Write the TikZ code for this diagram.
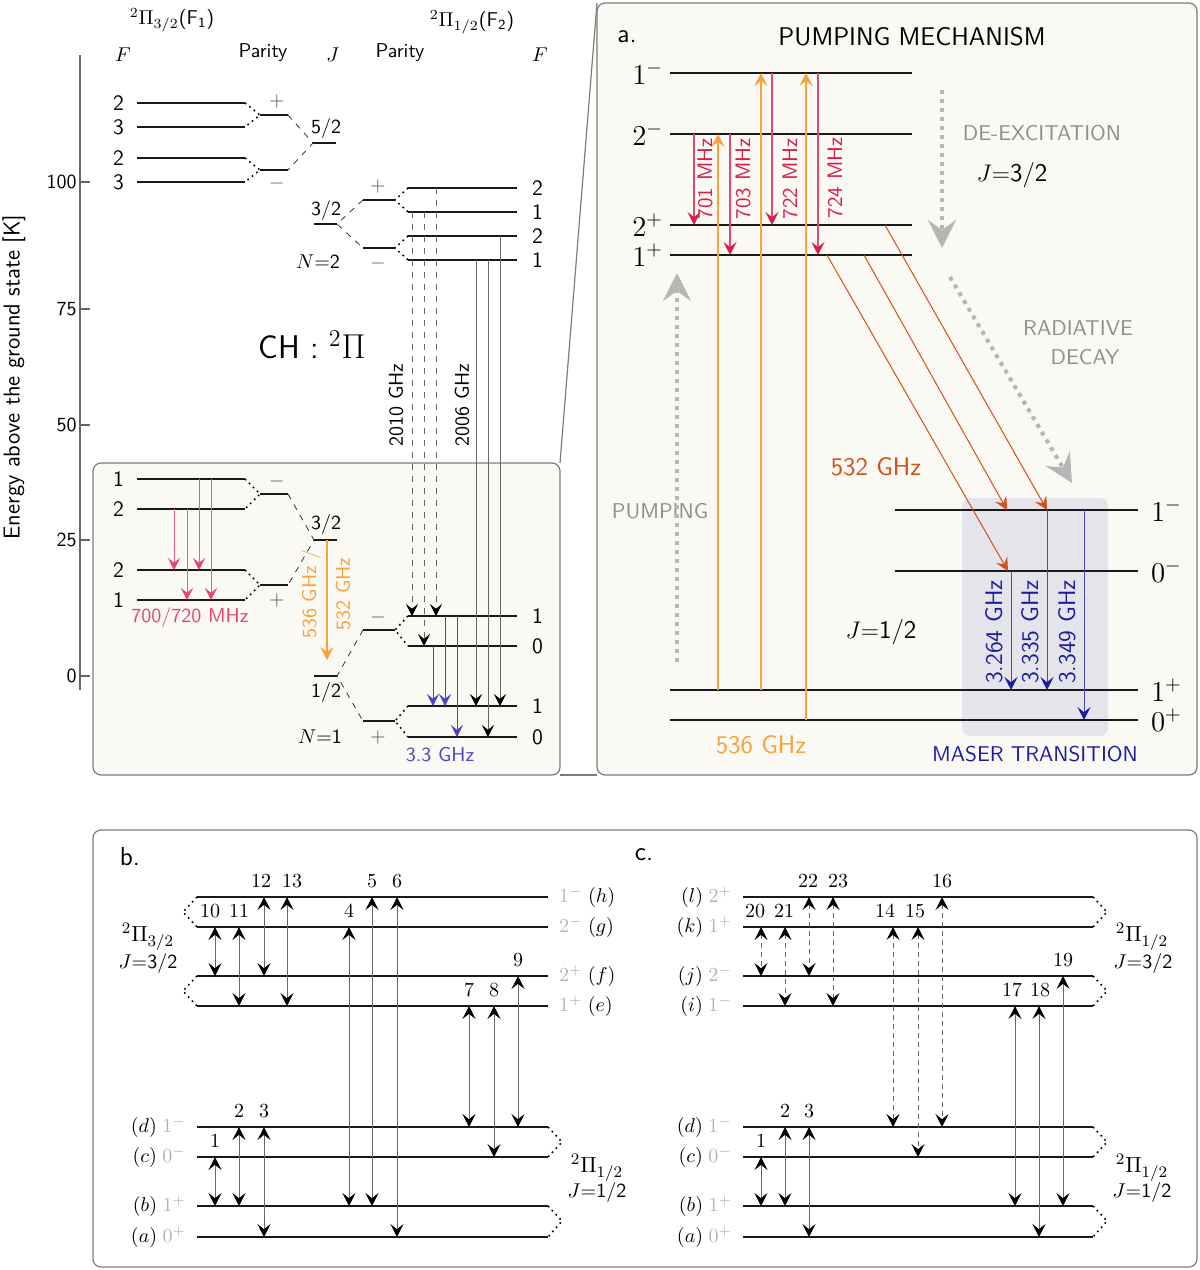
\documentclass[tikz,border=0pt]{standalone}
\usepackage{amsmath}
\usepackage{amssymb}
\usepackage{tikz}
\usetikzlibrary{calc,arrows.meta}
\renewcommand{\familydefault}{\sfdefault}

\definecolor{paper}{HTML}{FBF9F4}
\definecolor{framegray}{HTML}{7C7C7C}
\definecolor{mhzred}{HTML}{D81E4A}
\definecolor{mhzpink}{HTML}{E5456C}
\definecolor{pumporange}{HTML}{F7A23A}
\definecolor{decayorange}{HTML}{D0501C}
\definecolor{maserblue}{HTML}{1C1CA0}
\definecolor{hfblue}{HTML}{4646C2}
\definecolor{guidegray}{HTML}{B6B6B6}
\definecolor{notegray}{HTML}{8E8E8E}
\definecolor{parlabel}{HTML}{B4B4B4}
\definecolor{maserfill}{HTML}{E6E4EB}

\tikzset{
  level/.style={line width=1pt,black!90},
  tie/.style={dotted,line width=0.8pt},
  split/.style={dash pattern=on 3pt off 3pt,line width=0.4pt,black!80},
  panel/.style={draw=framegray,line width=0.6pt,rounded corners=4pt},
  sign/.style={text=black!65},
  farline/.style={draw=black!60,line width=0.5pt,-{Stealth[length=6pt,width=6pt,inset=2.4pt,color=black]}},
  mhzline/.style={draw=mhzpink!85,line width=0.5pt,-{Stealth[length=6pt,width=6pt,inset=2.4pt,color=mhzpink]}},
  hfline/.style={draw=hfblue,line width=0.5pt,-{Stealth[length=6pt,width=6pt,inset=2.4pt]}},
  mhzarrow/.style={draw=mhzred!80,line width=0.6pt,-{Stealth[length=6.5pt,width=6.5pt,inset=2.6pt,color=mhzred]}},
  pumparrow/.style={draw=pumporange,line width=0.6pt,-{Stealth[length=6.5pt,width=6.5pt,inset=2.6pt]}},
  decayarrow/.style={draw=decayorange,line width=0.5pt,-{Stealth[length=6.5pt,width=6.5pt,inset=2.6pt]}},
  maserarrow/.style={draw=maserblue!80,line width=0.5pt,-{Stealth[length=6.5pt,width=6.5pt,inset=2.6pt,color=maserblue]}},
  guide/.style={draw=guidegray,line width=2pt,dash pattern=on 2pt off 2.5pt,-{Stealth[length=14pt,width=14pt,inset=5pt]}},
  pair/.style={draw=black!60,line width=0.5pt,{Stealth[length=6.5pt,width=6.5pt,inset=2.6pt,color=black]}-{Stealth[length=6.5pt,width=6.5pt,inset=2.6pt,color=black]}},
  dpair/.style={pair,dash pattern=on 2.5pt off 2pt},
  num/.style={anchor=south,inner sep=1pt,yshift=3.5pt,font=\rmfamily},
  note/.style={text=notegray,font=\fontsize{10.7}{12}\selectfont},
  big/.style={font=\fontsize{12.7}{15}\selectfont}
}

\newcommand{\elevel}[4]{\draw[level] (#2,#3) coordinate (#1) -- ++(#4,0) coordinate (#1-r);}
\newcommand{\vtr}[4][]{\draw[#1] ($(#3)+(#2,0)$) -- ($(#4)+(#2,0)$);}
\newcommand{\bitr}[7][pair]{\draw[#1] ($(#4)+(#3,0)$) coordinate (#2) -- ($(#5)+(#3,0)$);
  \node[num] (#2-n) at ($(#2)+(#7,0)$) {#6};}

\begin{document}
\begin{tikzpicture}[x=0.5pt,y=-0.5pt,>={Stealth[length=5.5pt,width=5pt,inset=2pt]}]
\useasboundingbox (0,0) rectangle (1200,1270);

\draw[panel,fill=paper] (93,463) coordinate (zoomtl) rectangle (560,775) coordinate (zoombr);
\draw[panel,fill=paper] (597,3) coordinate (pa-nw) rectangle (1197,775) coordinate (pa-se);
\draw[panel,fill=white] (93,830) coordinate (pbc-nw) rectangle (1197,1267) coordinate (pbc-se);
\draw[framegray,line width=0.6pt] (zoomtl -| zoombr) -- (pa-nw);
\draw[framegray,line width=0.6pt] (zoombr) -- (pa-nw |- pa-se);

\draw[black!60,line width=0.6pt] (80,55) coordinate (ax-top) -- (80,690) coordinate (ax-bot);
\foreach \v/\y in {100/182,75/309,50/425,25/540,0/676} {
  \draw[black!60,line width=0.6pt] (80,\y) -- (90,\y);
  \node[anchor=east,inner sep=1pt] (tick\v) at (79,\y) {\v};
}
\node[rotate=90,font=\fontsize{11.5}{13}\selectfont] (ylabel) at (14,377) {Energy above the ground state [K]};

\node (hd-f1) at (172,20) {$^2\Pi_{3/2}$(F$_\mathsf{1}$)};
\node (hd-f2) at (472,22) {$^2\Pi_{1/2}$(F$_\mathsf{2}$)};
\node (hd-fa) at (123,55) {$F$};
\node (hd-pa) at (263,53) {Parity};
\node (hd-j) at (333,55) {$J$};
\node (hd-pb) at (400,53) {Parity};
\node (hd-fb) at (540,55) {$F$};

\foreach \n/\y/\f in {ua/103/2,ub/127/3,uc/158/2,ud/182/3} {
  \elevel{\n}{137}{\y}{108}
  \node[anchor=east,font=\fontsize{11}{13}\selectfont] (\n-f) at (131,\y) {\f};
}
\elevel{pu}{260}{115}{28}
\elevel{pd}{260}{170}{28}
\node[sign] (pu-s) at (277,101) {$+$};
\node[sign] (pd-s) at (277,183) {$-$};
\draw[tie] (ua-r) -- (pu) -- (ub-r);
\draw[tie] (uc-r) -- (pd) -- (ud-r);
\elevel{j52}{313}{143}{23}
\node (j52-l) at (326,128) {5/2};
\draw[split] (pu-r) -- (j52) -- (pd-r);

\elevel{j32}{314}{224}{23}
\node (j32-l) at (326,210) {3/2};
\node (n2) at (318,262) {$N{=}$2};
\elevel{qu}{363}{200}{32}
\elevel{qd}{363}{248}{32}
\node[sign] (qu-s) at (378,186) {$+$};
\node[sign] (qd-s) at (378,263) {$-$};
\draw[split] (qu) -- (j32-r) -- (qd);
\foreach \n/\y/\f in {fa/188/2,fb/212/1,fc/236/2,fd/260/1} {
  \elevel{\n}{408}{\y}{109}
  \node[anchor=west,font=\fontsize{11}{13}\selectfont] (\n-f) at (525,\y) {\f};
}
\draw[tie] (fa) -- (qu-r) -- (fb);
\draw[tie] (fc) -- (qd-r) -- (fd);

\node[font=\fontsize{16.4}{19}\selectfont] (chpi) at (312,345) {CH : $^2\Pi$};

\foreach \n/\y/\f in {la/479/1,lb/509/2,lc/570/2,ld/600/1} {
  \elevel{\n}{137}{\y}{108}
  \node[anchor=east,font=\fontsize{11}{13}\selectfont] (\n-f) at (131,\y) {\f};
}
\elevel{pl}{260}{494}{28}
\elevel{pm}{260}{585}{28}
\node[sign] (pl-s) at (277,481) {$-$};
\node[sign] (pm-s) at (277,600) {$+$};
\draw[tie] (la-r) -- (pl) -- (lb-r);
\draw[tie] (lc-r) -- (pm) -- (ld-r);
\elevel{jl32}{314}{540}{23}
\node (jl32-l) at (326,524) {3/2};
\draw[split] (pl-r) -- (jl32) -- (pm-r);
\elevel{j12}{314}{676}{23}
\node (j12-l) at (326,692) {1/2};
\node (n1) at (320,737) {$N{=}$1};
\elevel{ru}{363}{630}{32}
\elevel{rd}{363}{721}{32}
\node[sign] (ru-s) at (378,617) {$-$};
\node[sign] (rd-s) at (378,737) {$+$};
\draw[split] (ru) -- (j12-r) -- (rd);
\foreach \n/\y/\f in {ga/616/1,gb/646/0,gc/706/1,gd/737/0} {
  \elevel{\n}{408}{\y}{109}
  \node[anchor=west,font=\fontsize{11}{13}\selectfont] (\n-f) at (525,\y) {\f};
}
\draw[tie] (ga) -- (ru-r) -- (gb);
\draw[tie] (gc) -- (rd-r) -- (gd);

\vtr[mhzline]{37}{lb}{lc}
\vtr[mhzline]{50}{lb}{ld}
\vtr[mhzline]{62}{la}{lc}
\vtr[mhzline]{74}{la}{ld}
\node[text=mhzpink] (f700) at (190,617) {700/720 MHz};
\draw[pumparrow,shorten >=8pt] ($(jl32)+(13,0)$) -- ($(j12)+(13,0)$);
\node[rotate=90,text=pumporange] (f536) at (311,594) {536 GHz /};
\node[rotate=90,text=pumporange] (f532) at (343,594) {532 GHz};

\vtr[farline,dashed]{4}{fb}{ga}
\vtr[farline,dashed]{16}{fb}{gb}
\vtr[farline,dashed]{28}{fa}{ga}
\vtr[farline]{68}{fd}{gc}
\vtr[farline]{80}{fd}{gd}
\vtr[farline]{92}{fc}{gc}
\node[rotate=90] (f2010) at (396,405) {2010 GHz};
\node[rotate=90] (f2006) at (462,405) {2006 GHz};
\vtr[hfline]{25}{gb}{gc}
\vtr[hfline]{37}{ga}{gc}
\vtr[hfline]{49}{ga}{gd}
\node[text=hfblue] (f33) at (440,755) {3.3 GHz};

\node[font=\fontsize{13}{15}\selectfont] (pa-tag) at (627,37) {a.};
\node[font=\fontsize{12.8}{15}\selectfont] (pa-title) at (912,37) {PUMPING MECHANISM};
\fill[maserfill,rounded corners=4pt] (962,498) coordinate (mb-nw) rectangle (1108,736) coordinate (mb-se);
\foreach \n/\y/\s in {a1m/73/1^-,a2m/134/2^-,a2p/225/2^+,a1p/255/1^+} {
  \elevel{\n}{670}{\y}{242}
  \node[anchor=east,font=\fontsize{14}{16}\selectfont] (\n-l) at (670,\y) {$\s$};
}
\foreach \n/\y/\s in {b1m/510/1^-,b0m/571/0^-} {
  \elevel{\n}{895}{\y}{243}
  \node[anchor=west,font=\fontsize{14}{16}\selectfont] (\n-l) at (1144,\y) {$\s$};
}
\foreach \n/\y/\s in {b1p/690/1^+,b0p/720/0^+} {
  \elevel{\n}{670}{\y}{468}
  \node[anchor=west,font=\fontsize{14}{16}\selectfont] (\n-l) at (1144,\y) {$\s$};
}

\vtr[mhzarrow]{24}{a2m}{a2p}
\vtr[mhzarrow]{60}{a2m}{a1p}
\vtr[mhzarrow]{102}{a1m}{a2p}
\vtr[mhzarrow]{148}{a1m}{a1p}
\node[rotate=90,text=mhzred,font=\fontsize{10.5}{12}\selectfont] (t-701) at (705,179) {701 MHz};
\node[rotate=90,text=mhzred,font=\fontsize{10.5}{12}\selectfont] (t-703) at (743,179) {703 MHz};
\node[rotate=90,text=mhzred,font=\fontsize{10.5}{12}\selectfont] (t-722) at (790,179) {722 MHz};
\node[rotate=90,text=mhzred,font=\fontsize{10.5}{12}\selectfont] (t-724) at (835,178) {724 MHz};

\vtr[pumparrow]{48}{b1p}{a2m}
\vtr[pumparrow]{91}{b1p}{a1m}
\vtr[pumparrow]{136}{b0p}{a1m}

\draw[decayarrow] ($(a1p)+(157,0)$) -- ($(b0m)+(113,0)$);
\draw[decayarrow] ($(a1p)+(194,0)$) -- ($(b1m)+(112,0)$);
\draw[decayarrow] ($(a2p)+(215,0)$) -- ($(b1m)+(152,0)$);

\draw[maserarrow] ($(b0m)+(116,0)$) coordinate (m1) -- (m1 |- b1p);
\draw[maserarrow] ($(b1m)+(152,0)$) coordinate (m2) -- (m2 |- b1p);
\draw[maserarrow] ($(b1m)+(189,0)$) coordinate (m3) -- (m3 |- b0p);
\node[rotate=90,text=maserblue,font=\fontsize{12}{14}\selectfont] (t-3264) at (994,632) {3.264 GHz};
\node[rotate=90,text=maserblue,font=\fontsize{12}{14}\selectfont] (t-3335) at (1030,632) {3.335 GHz};
\node[rotate=90,text=maserblue,font=\fontsize{12}{14}\selectfont] (t-3349) at (1067,632) {3.349 GHz};

\node[note] (t-dex) at (1042,133) {DE-EXCITATION};
\node[big] (t-j32) at (1012,175) {$J{=}$3/2};
\node[note] (t-rad) at (1078,328) {RADIATIVE};
\node[note] (t-dec) at (1085,357) {DECAY};
\node[note] (t-pump) at (660,511) {PUMPING};
\node[big] (t-j12) at (881,632) {$J{=}$1/2};
\node[big,text=pumporange] (t-536) at (761,745) {536 GHz};
\node[big,text=decayorange] (t-532) at (876,467) {532 GHz};
\node[text=maserblue,font=\fontsize{10.7}{12}\selectfont] (t-maser) at (1035,754) {MASER TRANSITION};

\coordinate (dx-top) at (942,90);
\coordinate (dx-bot) at (942,248);
\coordinate (rd-top) at (950,277);
\coordinate (rd-bot) at (1072,483);
\coordinate (pm-bot) at (677,662);
\coordinate (pm-top) at (677,273);
\draw[guide] (dx-top) -- (dx-bot);
\draw[guide] (rd-top) -- (rd-bot);
\draw[guide] (pm-bot) -- (pm-top);

\node[font=\fontsize{13}{15}\selectfont] (pb-tag) at (130,857) {b.};
\foreach \n/\y in {h/897,g/927,f/976,e/1006,d/1127,c/1157,b/1206,a/1237} {
  \elevel{b\n}{197}{\y}{351}
}
\foreach \n/\s in {h/1^-,g/2^-,f/2^+,e/1^+} {
  \node[anchor=west] (b\n-l) at ($(b\n-r)+(4,0)$) {$\textcolor{parlabel}{\s}\;(\n)$};
}
\foreach \n/\s in {d/1^-,c/0^-,b/1^+,a/0^+} {
  \node[anchor=east] (b\n-l) at ($(b\n)+(-4,0)$) {$(\n)\;\textcolor{parlabel}{\s}$};
}
\draw[tie] (bh) -- ++(-14,15) -- (bg);
\draw[tie] (bf) -- ++(-14,15) -- (be);
\draw[tie] (bd-r) -- ++(14,15) -- (bc-r);
\draw[tie] (bb-r) -- ++(14,15) -- (ba-r);
\node[font=\fontsize{11}{13}\selectfont] (pb-up) at (148,937) {$^2\Pi_{3/2}$};
\node (pb-upj) at (148,963) {$J{=}$3/2};
\node[font=\fontsize{11}{13}\selectfont] (pb-lo) at (597,1168) {$^2\Pi_{1/2}$};
\node (pb-loj) at (597,1192) {$J{=}$1/2};

\bitr{b1}{18}{bc}{bb}{1}{0}
\bitr{b2}{42}{bd}{bb}{2}{0}
\bitr{b3}{67}{bd}{ba}{3}{0}
\bitr{b4}{152}{bg}{bb}{4}{0}
\bitr{b5}{175}{bh}{bb}{5}{0}
\bitr{b6}{200}{bh}{ba}{6}{0}
\bitr{b7}{272}{be}{bd}{7}{0}
\bitr{b8}{297}{be}{bc}{8}{0}
\bitr{b9}{321}{bf}{bd}{9}{0}
\bitr{b10}{18}{bg}{bf}{10}{-5}
\bitr{b11}{42}{bg}{be}{11}{0}
\bitr{b12}{67}{bh}{bf}{12}{-3}
\bitr{b13}{90}{bh}{be}{13}{5}

\node[font=\fontsize{13}{15}\selectfont] (pc-tag) at (644,855) {c.};
\foreach \n/\y in {l/897,k/927,j/976,i/1006,d/1127,c/1157,b/1206,a/1237} {
  \elevel{c\n}{743}{\y}{350}
}
\foreach \n/\s in {l/2^+,k/1^+,j/2^-,i/1^-,d/1^-,c/0^-,b/1^+,a/0^+} {
  \node[anchor=east] (c\n-l) at ($(c\n)+(-4,0)$) {$(\n)\;\textcolor{parlabel}{\s}$};
}
\draw[tie] (cl-r) -- ++(14,15) -- (ck-r);
\draw[tie] (cj-r) -- ++(14,15) -- (ci-r);
\draw[tie] (cd-r) -- ++(14,15) -- (cc-r);
\draw[tie] (cb-r) -- ++(14,15) -- (ca-r);
\node[font=\fontsize{11}{13}\selectfont] (pc-up) at (1142,937) {$^2\Pi_{1/2}$};
\node (pc-upj) at (1143,963) {$J{=}$3/2};
\node[font=\fontsize{11}{13}\selectfont] (pc-lo) at (1142,1168) {$^2\Pi_{1/2}$};
\node (pc-loj) at (1142,1192) {$J{=}$1/2};

\bitr{c1}{18}{cc}{cb}{1}{0}
\bitr{c2}{42}{cd}{cb}{2}{0}
\bitr{c3}{66}{cd}{ca}{3}{0}
\bitr[dpair]{c20}{18}{ck}{cj}{20}{-6}
\bitr[dpair]{c21}{42}{ck}{ci}{21}{-1}
\bitr[dpair]{c22}{66}{cl}{cj}{22}{-1}
\bitr[dpair]{c23}{90}{cl}{ci}{23}{5}
\bitr[dpair]{c14}{150}{ck}{cd}{14}{-8}
\bitr[dpair]{c15}{175}{ck}{cc}{15}{-3}
\bitr[dpair]{c16}{199}{cl}{cd}{16}{0}
\bitr{c17}{272}{ci}{cb}{17}{-3}
\bitr{c18}{296}{ci}{ca}{18}{1}
\bitr{c19}{320}{cj}{cb}{19}{0}
\end{tikzpicture}
\end{document}
